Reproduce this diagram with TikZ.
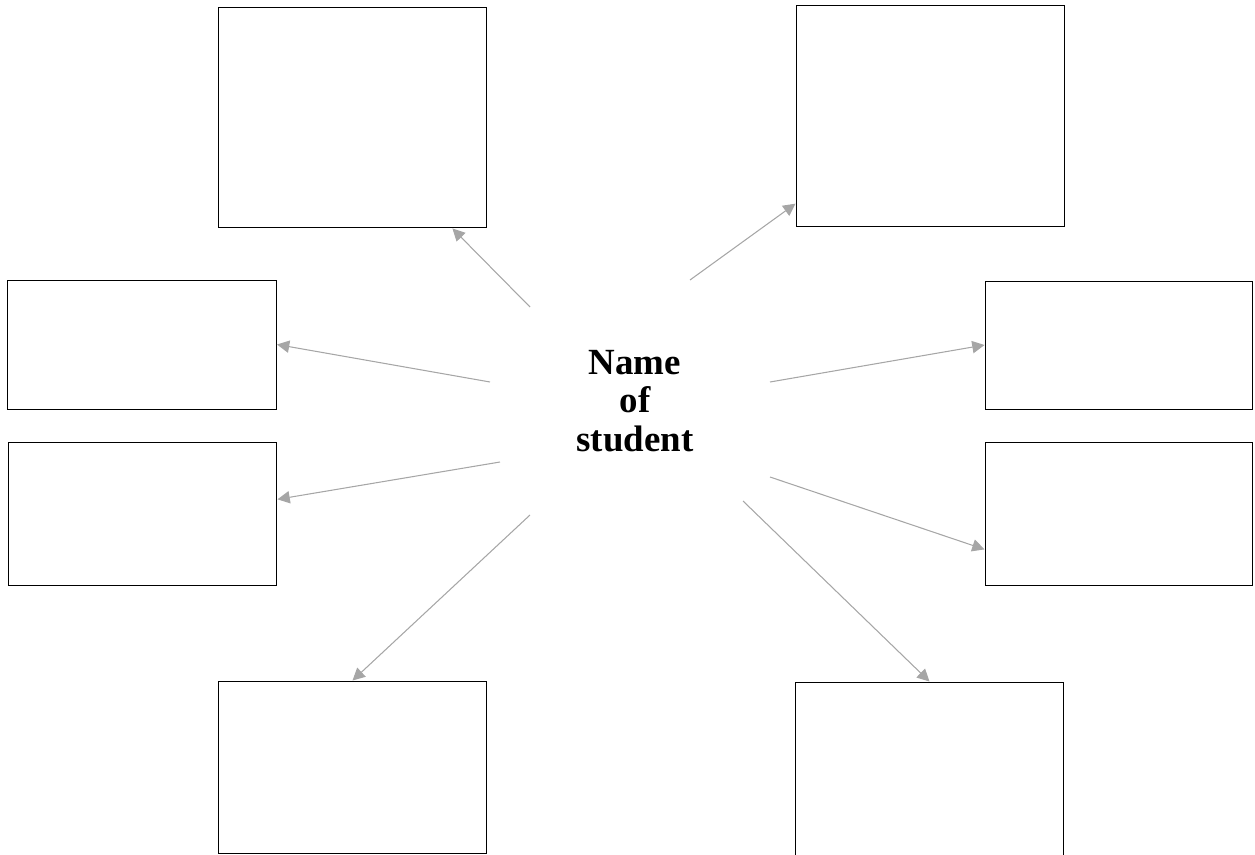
\documentclass[tikz,border=0pt]{standalone}
\usepackage{fontspec}
\setmainfont{Liberation Serif}
\usepackage{xcolor}
\usetikzlibrary{arrows.meta, positioning, calc}

\begin{document}
\begin{tikzpicture}[x=0.02cm, y=-0.02cm,
    box/.style={rectangle, draw, line width=0.55pt, inner sep=0pt, minimum width=5.38cm},
    link/.style={-{Triangle[length=7pt, width=7pt]}, draw=gray!70, line width=0.6pt}]
\useasboundingbox (0,0) rectangle (1255,855);

% centre
\node[align=center, font=\fontsize{21}{22}\selectfont\bfseries] (name) at (635,401) {Name\\of\\student};

% boxes
\node[box, minimum height=4.42cm] (tl) at (352.5,117.5) {};
\node[box, minimum height=4.44cm] (tr) at (930.5,116) {};
\node[box, minimum height=2.58cm] (lu) at (142,344.5) {};
\node[box, minimum height=2.86cm] (ll) at (142.5,513.5) {};
\node[box, minimum height=2.56cm, minimum width=5.34cm] (ru) at (1118.5,345) {};
\node[box, minimum height=2.86cm, minimum width=5.34cm] (rl) at (1118.5,513.5) {};
\node[box, minimum height=3.44cm] (bl) at (352.5,767) {};
\node[box, minimum height=4.36cm] (br) at (929.5,791) {};

% arrow starts round the name
\coordinate (s1) at (530,307);
\coordinate (s2) at (690,280);
\coordinate (s3) at (490,382);
\coordinate (s4) at (500,462);
\coordinate (s5) at (530,515);
\coordinate (s6) at (770,382);
\coordinate (s7) at (770,477);
\coordinate (s8) at (743,501);

\draw[link] (s1) -- (tl.-48);
\draw[link] (s2) -- (tr.213);
\draw[link] (s3) -- (lu.east);
\draw[link] (s4) -- (ll.6);
\draw[link] (s5) -- (bl.north);
\draw[link] (s6) -- (ru.west);
\draw[link] (s7) -- (rl.195);
\draw[link] (s8) -- (br.north);
\end{tikzpicture}
\end{document}
